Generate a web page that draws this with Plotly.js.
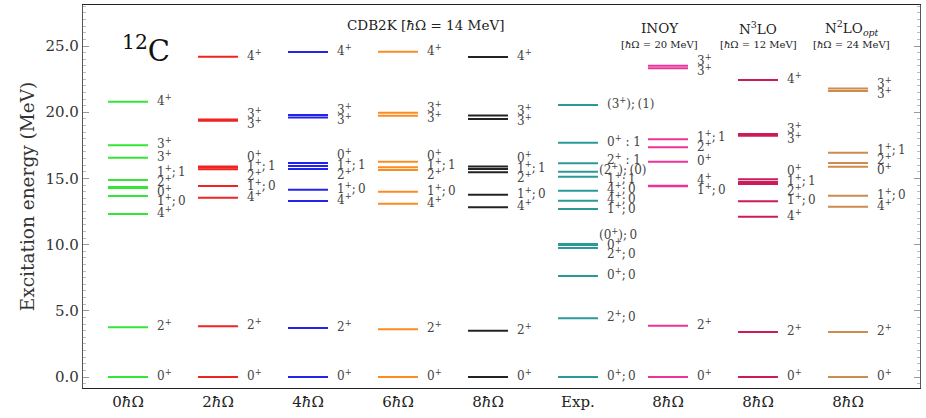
<!DOCTYPE html>
<html>
<head>
<meta charset="utf-8">
<script src="https://cdn.plot.ly/plotly-3.0.1.min.js"></script>
<style>html,body{margin:0;padding:0;background:#fff;}#chart{width:926px;height:418px;}</style>
</head>
<body>
<div id="chart"></div>
<script>
// ---- Data (MeV) ----
const columnLabels = ['0<i>ħ</i>Ω','2<i>ħ</i>Ω','4<i>ħ</i>Ω','6<i>ħ</i>Ω','8<i>ħ</i>Ω','Exp.','8<i>ħ</i>Ω','8<i>ħ</i>Ω','8<i>ħ</i>Ω'];

const E_0hw = [0, 3.75, 12.31, 13.67, 14.28, 14.36, 14.88, 16.57, 17.50, 20.80];
const J_0hw = ['0+','2+','4+','1+;0','0+','2+','1+;1','3+','3+','4+'];

const E_2hw = [0, 3.83, 13.54, 14.43, 15.69, 15.83, 15.90, 19.36, 19.45, 24.19];
const J_2hw = ['0+','2+','4+','1+;0','2+','1+;1','0+','3+','3+','4+'];

const E_4hw = [0, 3.70, 13.29, 14.15, 15.71, 15.94, 16.16, 19.61, 19.79, 24.55];
const J_4hw = ['0+','2+','4+','1+;0','2+','1+;1','0+','3+','3+','4+'];

const E_6hw = [0, 3.60, 13.09, 14.00, 15.63, 15.84, 16.26, 19.74, 19.96, 24.57];
const J_6hw = ['0+','2+','4+','1+;0','2+','1+;1','0+','3+','3+','4+'];

const E_8hw = [0, 3.50, 12.82, 13.77, 15.46, 15.71, 15.91, 19.49, 19.76, 24.17];
const J_8hw = ['0+','2+','4+','1+;0','2+','1+;1','0+','3+','3+','4+'];

const E_exp = [0, 4.43, 7.63, 9.74, 9.98, 10.05, 12.69, 13.32, 14.07, 15.13, 15.50, 16.14, 17.70, 20.54];
const J_exp = ['0+;0','2+;0','0+;0','2+;0','0+','(0+);0','1+;0','4+;0','4+;0','1+;1','(2+);(0)','2+ : 1','0+ : 1','(3+);(1)'];

const E_inoy = [0, 3.87, 14.40, 14.45, 16.26, 17.35, 17.95, 23.32, 23.52];
const J_inoy = ['0+','2+','1+;0','4+','0+','2+','1+;1','3+','3+'];

const E_n3lo = [0, 3.40, 12.11, 13.27, 14.58, 14.73, 14.93, 18.23, 18.35, 22.43];
const J_n3lo = ['0+','2+','4+','1+;0','2+','1+;1','0+','3+','3+','4+'];

const E_n2lo = [0, 3.40, 12.86, 13.70, 15.88, 16.16, 16.94, 21.60, 21.80];
const J_n2lo = ['0+','2+','4+','1+;0','0+','2+','1+;1','3+','3+'];

const columnColors = ['#33e633','#f02323','#2323ee','#fa8c22','#222222','#2a9a98','#ec3399','#cc1a5a','#cd8b4e'];

// ---- Build ----
const sets = [
  [E_0hw, J_0hw],[E_2hw, J_2hw],[E_4hw, J_4hw],[E_6hw, J_6hw],[E_8hw, J_8hw],
  [E_exp, J_exp],[E_inoy, J_inoy],[E_n3lo, J_n3lo],[E_n2lo, J_n2lo]
];
const HW = 0.222;      // half width of a level bar (x units)
const LABEL_DX = 0.30; // label x offset
const GAP = 0.74;      // min label spacing (MeV)
const FAM = 'DejaVu Serif, Liberation Serif, serif';

function fmt(j){
  return j.replace(/\+/g,'<sup>+</sup>').replace(/;/g,';\u2009');
}
function spread(E){
  const idx = E.map((e,i)=>i).sort((a,b)=>E[a]-E[b]);
  let cl = idx.map(i=>({m:[i], c:E[i]}));
  let changed = true;
  while(changed){
    changed = false;
    for(let k=0;k<cl.length-1;k++){
      const a=cl[k], b=cl[k+1];
      const aTop = a.c + (a.m.length-1)*GAP/2;
      const bBot = b.c - (b.m.length-1)*GAP/2;
      if(bBot - aTop < GAP - 1e-9){
        const m = a.m.concat(b.m);
        const c = m.reduce((s,i)=>s+E[i],0)/m.length;
        cl.splice(k,2,{m:m,c:c});
        changed = true; break;
      }
    }
  }
  const pos = new Array(E.length);
  cl.forEach(g=>{
    const n=g.m.length;
    g.m.forEach((i,r)=>{ pos[i] = g.c + (r-(n-1)/2)*GAP; });
  });
  return pos;
}

const traces = [];
const annotations = [];
const labelFont = {family:FAM, size:12, color:'#444'};
const shiftLeft = {'(2+);(0)':-8, '(0+);0':-8};

sets.forEach(([E,J],ci)=>{
  const x=[], y=[];
  E.forEach(e=>{ x.push(ci-HW, ci+HW, null); y.push(e,e,null); });
  traces.push({type:'scatter', mode:'lines', x:x, y:y, line:{color:columnColors[ci], width:2},
               hoverinfo:'skip', showlegend:false});
  const lp = spread(E);
  E.forEach((e,i)=>{
    annotations.push({xref:'x', yref:'y', x:ci+LABEL_DX, y:lp[i], text:fmt(J[i]),
      showarrow:false, xanchor:'left', yanchor:'middle', font:labelFont,
      xshift:(ci===5 && shiftLeft[J[i]]) ? shiftLeft[J[i]] : 0, yshift:2});
  });
});

const tf = {family:FAM, color:'#222'};
annotations.push(
  {xref:'x', yref:'y', x:0.2, y:24.8, text:'<sup>12</sup>C', showarrow:false, font:Object.assign({}, tf, {size:29, color:'#111'})},
  {xref:'x', yref:'y', x:3.3, y:26.6, text:'CDB2K [<i>ħ</i>Ω = 14 MeV]', showarrow:false, font:Object.assign({}, tf, {size:13.5})},
  {xref:'x', yref:'y', x:5.91, y:26.4, text:'INOY', showarrow:false, font:Object.assign({}, tf, {size:13.5})},
  {xref:'x', yref:'y', x:5.91, y:25.15, text:'[<i>ħ</i>Ω = 20 MeV]', showarrow:false, font:Object.assign({}, tf, {size:10})},
  {xref:'x', yref:'y', x:7.0, y:26.4, text:'N<sup>3</sup>LO', showarrow:false, font:Object.assign({}, tf, {size:13.5})},
  {xref:'x', yref:'y', x:7.0, y:25.15, text:'[<i>ħ</i>Ω = 12 MeV]', showarrow:false, font:Object.assign({}, tf, {size:10})},
  {xref:'x', yref:'y', x:8.04, y:26.4, text:'N<sup>2</sup>LO<sub><i>opt</i></sub>', showarrow:false, font:Object.assign({}, tf, {size:13.5})},
  {xref:'x', yref:'y', x:8.04, y:25.15, text:'[<i>ħ</i>Ω = 24 MeV]', showarrow:false, font:Object.assign({}, tf, {size:10})}
);

const layout = {
  width:926, height:418,
  margin:{l:83, r:6, t:5, b:30},
  paper_bgcolor:'#fff', plot_bgcolor:'#fff',
  font:{family:FAM, color:'#222'},
  showlegend:false,
  xaxis:{range:[-0.5, 8.8], tickmode:'array', tickvals:[0,1,2,3,4,5,6,7,8], ticktext:columnLabels,
    showgrid:false, zeroline:false, showline:true, linecolor:'#222', linewidth:1.2, mirror:true,
    ticks:'', tickfont:{size:15, color:'#222'}},
  yaxis:{range:[-0.83, 28.1], tick0:0, dtick:5, tickformat:'.1f', showgrid:false, zeroline:false,
    showline:true, linecolor:'#555', linewidth:1.2, mirror:'ticks',
    ticks:'inside', ticklen:6, tickcolor:'#999', tickwidth:1,
    minor:{dtick:0.5, ticks:'inside', ticklen:3, tickcolor:'#bbb'},
    tickfont:{size:15, color:'#333'},
    title:{text:'Excitation energy (MeV)', font:{size:18.5, color:'#333'}, standoff:6}},
  annotations:annotations
};

Plotly.newPlot('chart', traces, layout, {staticPlot:true, displayModeBar:false});
</script>
</body>
</html>
